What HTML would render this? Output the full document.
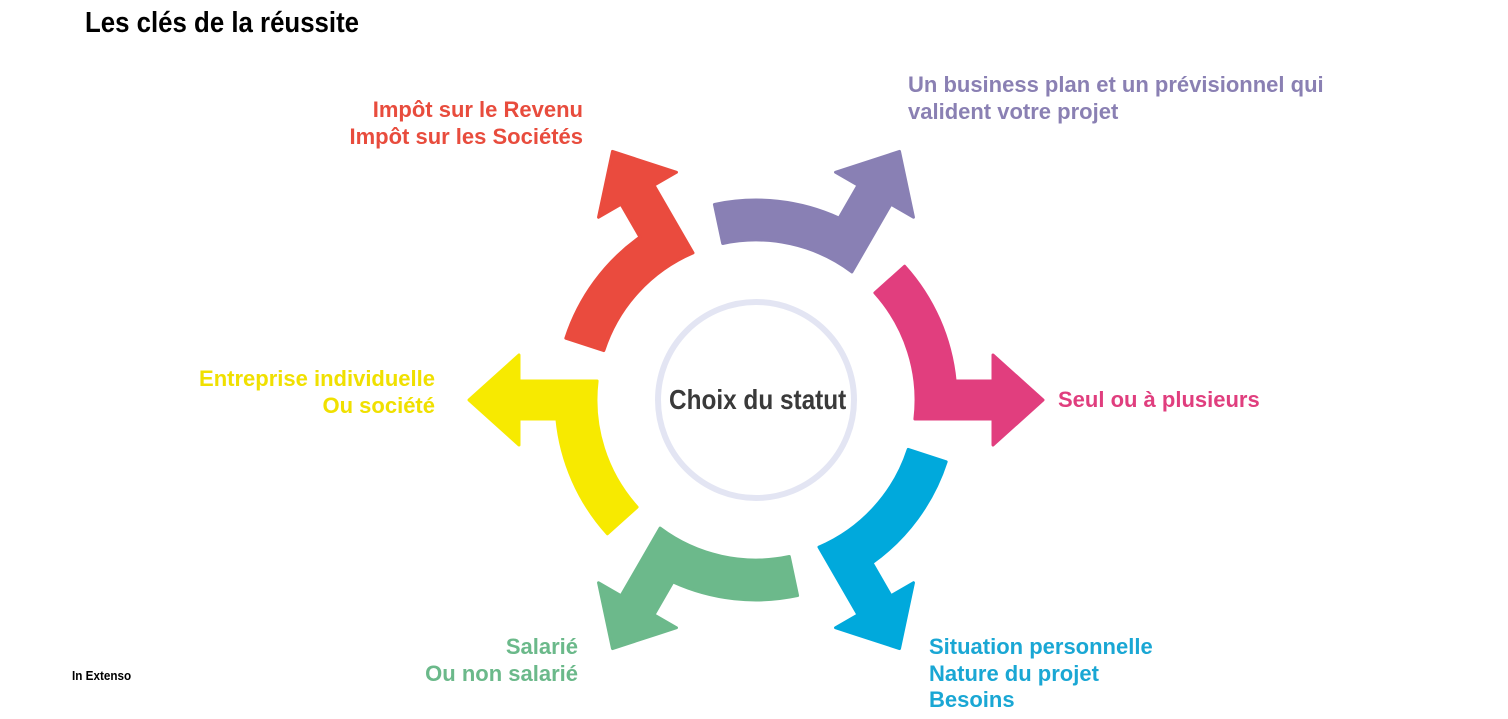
<!DOCTYPE html>
<html><head><meta charset="utf-8"><style>
html,body{margin:0;padding:0;background:#fff;}
body{width:1508px;height:719px;position:relative;overflow:hidden;font-family:"Liberation Sans",sans-serif;}
.t{position:absolute;font-weight:bold;font-size:22px;line-height:27px;white-space:nowrap;}
.r{text-align:right;}
</style></head><body>
<div class="t" style="left:85px;top:6px;font-size:29px;line-height:34px;color:#000;transform:scaleX(0.89);transform-origin:left;">Les clés de la réussite</div>
<svg width="1508" height="719" style="position:absolute;left:0;top:0">
<defs><path id="a" d="M148.6,-133.8 A200,200 0 0 1 199.1,-19 L237,-19 L237,-45 L287,0 L237,45 L237,19 L158.9,19 A160,160 0 0 0 118.9,-107.1 Z" stroke-linejoin="round" stroke-width="3"/></defs>
<g transform="translate(756,400)">
<use href="#a" fill="#e13e7e" stroke="#e13e7e"/>
<use href="#a" transform="rotate(60)" fill="#00a9dc" stroke="#00a9dc"/>
<use href="#a" transform="rotate(120)" fill="#6cb98b" stroke="#6cb98b"/>
<use href="#a" transform="rotate(180)" fill="#f7ea00" stroke="#f7ea00"/>
<use href="#a" transform="rotate(240)" fill="#ea4b3e" stroke="#ea4b3e"/>
<use href="#a" transform="rotate(300)" fill="#8980b4" stroke="#8980b4"/>
<circle r="98" fill="none" stroke="#e3e5f3" stroke-width="6"/>
</g>
</svg>
<div class="t" style="left:656px;top:382px;width:200px;text-align:center;font-size:28px;line-height:36px;color:#3a3a3a;transform:scaleX(0.87);">Choix du statut</div>
<div class="t r" style="right:925px;top:96px;color:#e84c3d;">Impôt sur le Revenu<br>Impôt sur les Sociétés</div>
<div class="t" style="left:908px;top:71px;color:#8a80b3;">Un business plan et un prévisionnel qui<br>valident votre projet</div>
<div class="t" style="left:1058px;top:386px;color:#e03e7e;">Seul ou à plusieurs</div>
<div class="t r" style="right:1073px;top:365px;color:#f0e000;">Entreprise individuelle<br>Ou société</div>
<div class="t r" style="right:930px;top:633px;color:#6bb98a;">Salarié<br>Ou non salarié</div>
<div class="t" style="left:929px;top:634px;color:#1aa7d4;line-height:26.5px;">Situation personnelle<br>Nature du projet<br>Besoins</div>
<div class="t" style="left:72px;top:669px;font-size:13px;line-height:14px;color:#000;transform:scaleX(0.9);transform-origin:left;">In Extenso</div>
</body></html>
